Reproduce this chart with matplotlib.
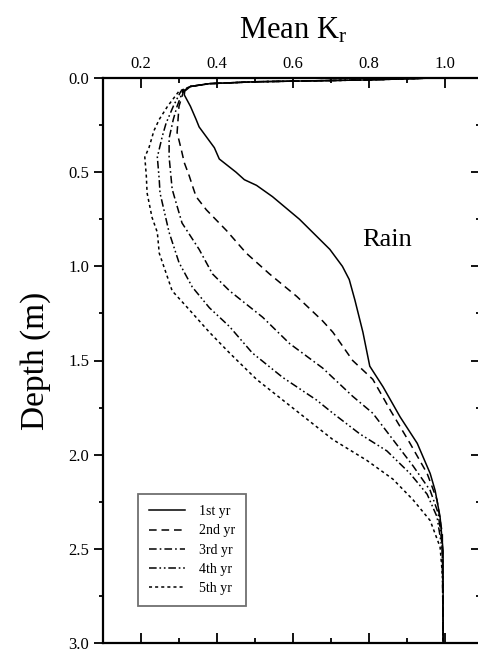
import matplotlib
matplotlib.use("Agg")
import matplotlib.pyplot as plt
from matplotlib.ticker import MultipleLocator

# ================= Data =================
# depth (m) and mean Kr for each year
depth_1st = [0.0, 0.01, 0.02, 0.03, 0.045, 0.07, 0.09, 0.15, 0.22, 0.26, 0.37, 0.43, 0.50, 0.54,
             0.57, 0.63, 0.75, 0.91, 1.00, 1.07, 1.18, 1.35, 1.53, 1.64, 1.80, 1.94, 2.10, 2.19,
             2.33, 2.51, 3.0]
kr_1st = [0.97, 0.80, 0.50, 0.38, 0.33, 0.315, 0.314, 0.33, 0.345, 0.353, 0.393, 0.406, 0.45, 0.472,
          0.504, 0.546, 0.617, 0.697, 0.73, 0.748, 0.763, 0.784, 0.802, 0.837, 0.882, 0.927, 0.961,
          0.974, 0.987, 0.995, 0.995]

depth_2nd = [0.0, 0.01, 0.02, 0.03, 0.045, 0.07, 0.15, 0.29, 0.38, 0.45, 0.52, 0.57, 0.63, 0.70,
             0.81, 0.93, 1.04, 1.16, 1.29, 1.35, 1.50, 1.60, 1.76, 1.94, 2.10, 2.24, 2.42, 3.0]
kr_2nd = [0.97, 0.80, 0.50, 0.38, 0.33, 0.312, 0.30, 0.295, 0.306, 0.314, 0.327, 0.335, 0.345, 0.372,
          0.425, 0.477, 0.538, 0.61, 0.678, 0.705, 0.757, 0.81, 0.855, 0.908, 0.953, 0.979, 0.993, 0.995]

depth_3rd = [0.0, 0.01, 0.02, 0.03, 0.045, 0.07, 0.15, 0.22, 0.32, 0.42, 0.59, 0.66, 0.77, 0.91,
             1.04, 1.13, 1.27, 1.41, 1.54, 1.69, 1.78, 1.92, 2.06, 2.19, 2.31, 2.49, 3.0]
kr_3rd = [0.97, 0.80, 0.50, 0.38, 0.33, 0.31, 0.295, 0.285, 0.274, 0.274, 0.282, 0.292, 0.308, 0.353,
          0.388, 0.433, 0.52, 0.591, 0.678, 0.757, 0.81, 0.863, 0.916, 0.961, 0.982, 0.993, 0.995]

depth_4th = [0.0, 0.01, 0.02, 0.03, 0.045, 0.07, 0.15, 0.24, 0.31, 0.42, 0.54, 0.61, 0.82, 0.98,
             1.11, 1.22, 1.32, 1.46, 1.59, 1.71, 1.78, 1.89, 1.98, 2.10, 2.21, 2.33, 2.51, 3.0]
kr_4th = [0.97, 0.80, 0.50, 0.38, 0.33, 0.305, 0.285, 0.266, 0.256, 0.243, 0.248, 0.25, 0.274, 0.30,
          0.335, 0.38, 0.433, 0.493, 0.573, 0.662, 0.705, 0.776, 0.847, 0.908, 0.953, 0.979, 0.993, 0.995]

depth_5th = [0.0, 0.01, 0.02, 0.03, 0.045, 0.07, 0.15, 0.22, 0.28, 0.37, 0.42, 0.52, 0.61, 0.74,
             0.82, 0.93, 1.13, 1.23, 1.35, 1.46, 1.60, 1.78, 1.92, 2.03, 2.13, 2.24, 2.35, 2.49,
             2.68, 3.0]
kr_5th = [0.97, 0.80, 0.50, 0.38, 0.33, 0.30, 0.27, 0.248, 0.234, 0.221, 0.21, 0.214, 0.216, 0.229,
          0.243, 0.248, 0.282, 0.327, 0.38, 0.433, 0.504, 0.617, 0.705, 0.794, 0.863, 0.916, 0.961,
          0.987, 0.995, 0.995]

labels = ["1st yr", "2nd yr", "3rd yr", "4th yr", "5th yr"]
x_ticks = [0.2, 0.4, 0.6, 0.8, 1.0]
y_ticks = [0.0, 0.5, 1.0, 1.5, 2.0, 2.5, 3.0]
# ===============================================================

plt.rcParams['font.family'] = ['Liberation Serif', 'DejaVu Serif']
plt.rcParams['mathtext.fontset'] = 'custom'
plt.rcParams['mathtext.rm'] = 'Liberation Serif'
plt.rcParams['mathtext.it'] = 'Liberation Serif:italic'
plt.rcParams['lines.scale_dashes'] = False

fig = plt.figure(figsize=(4.78, 6.55), dpi=100)
W, H = 478.0, 655.0
ax = fig.add_axes([103 / W, (H - 643) / H, 380 / W, 565 / H])

styles = [
    '-',
    (0, (5.5, 3.5)),
    (0, (5.5, 2.2, 1.2, 2.2)),
    (0, (5.5, 2.0, 1.2, 2.0, 1.2, 2.0)),
    (0, (2.2, 2.2)),
]
series = [(kr_1st, depth_1st), (kr_2nd, depth_2nd), (kr_3rd, depth_3rd),
          (kr_4th, depth_4th), (kr_5th, depth_5th)]

for (x, y), ls, lab in zip(series, styles, labels):
    ax.plot(x, y, color='black', linestyle=ls, linewidth=1.1, label=lab)

ax.set_xlim(0.1, 1.1)
ax.set_ylim(3.0, 0.0)

# x axis: labels on top, ticks inward on top and bottom
ax.set_xticks(x_ticks)
ax.set_xticklabels([f"{v:.1f}" for v in x_ticks])
ax.xaxis.set_minor_locator(MultipleLocator(0.1))
ax.tick_params(axis='x', which='both', direction='in', top=True, bottom=True,
               labeltop=True, labelbottom=False, labelsize=12, pad=4, width=1.3)
ax.tick_params(axis='x', which='major', length=7.5)
ax.tick_params(axis='x', which='minor', length=3.5)
ax.xaxis.set_label_position('top')
ax.set_xlabel('Mean K$_\\mathrm{r}$', fontsize=22, labelpad=13)

# y axis: labels on left, ticks outward on left
ax.set_yticks(y_ticks)
ax.set_yticklabels([f"{v:.1f}" for v in y_ticks])
ax.yaxis.set_minor_locator(MultipleLocator(0.25))
ax.tick_params(axis='y', which='both', direction='out', left=True, right=False,
               labelsize=12, pad=3.5, width=1.3)
ax.tick_params(axis='y', which='major', length=6.5)
ax.tick_params(axis='y', which='minor', length=3)
ax.set_ylabel('Depth (m)', fontsize=24, labelpad=12)

# right side ticks pointing inward
sec = ax.secondary_yaxis('right')
sec.set_yticks(y_ticks)
sec.yaxis.set_minor_locator(MultipleLocator(0.25))
sec.tick_params(axis='y', which='both', direction='in', labelright=False, width=1.3)
sec.tick_params(axis='y', which='major', length=8.5)
sec.tick_params(axis='y', which='minor', length=5)

for s in ax.spines.values():
    s.set_linewidth(1.6)

ax.text(0.847, 0.86, 'Rain', fontsize=19, ha='center', va='center')

leg = ax.legend(loc='lower left', bbox_to_anchor=(0.092, 0.065), borderaxespad=0,
                fontsize=10, frameon=True, fancybox=False, framealpha=1,
                edgecolor='#707070', handlelength=2.6, handletextpad=1.0,
                labelspacing=0.45, borderpad=0.8)
leg.get_frame().set_linewidth(1.3)

fig.savefig('out.png', dpi=100)
